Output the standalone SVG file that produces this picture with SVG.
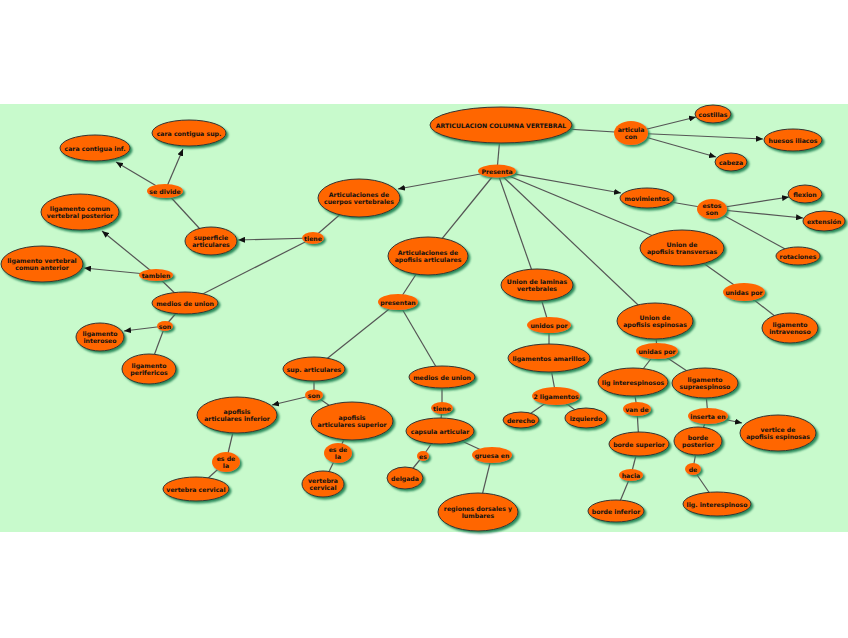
<svg xmlns="http://www.w3.org/2000/svg" width="848" height="638" viewBox="0 0 848 638">
<defs>
<filter id="sh" x="-20%" y="-20%" width="150%" height="160%">
<feDropShadow dx="2" dy="2" stdDeviation="0.8" flood-color="#2a8a5c" flood-opacity="1"/>
</filter>
<marker id="ar" markerWidth="7" markerHeight="6" refX="7" refY="3" orient="auto" markerUnits="userSpaceOnUse">
<path d="M0,0 L7,3 L0,6 z" fill="#111"/>
</marker>
</defs>
<style>
.c{fill:#ff6600;stroke:#333;stroke-width:1;filter:url(#sh)}
.l{fill:#ff6600;stroke:none;filter:url(#sh)}
text{font-family:"DejaVu Sans","Liberation Sans",sans-serif;font-weight:bold;font-size:6.2px;fill:#111;text-anchor:middle}
#edges line{stroke:#555;stroke-width:1.2}
#edges line.a{marker-end:url(#ar)}
</style>
<rect x="0" y="0" width="848" height="638" fill="#ffffff"/>
<rect x="0" y="104" width="848" height="428" fill="#c8facc"/>
<g id="edges">
<line x1="501" y1="125" x2="497" y2="171"/>
<line x1="501" y1="125" x2="631" y2="133"/>
<line x1="497" y1="171" x2="428" y2="256"/>
<line x1="497" y1="171" x2="537" y2="285"/>
<line x1="497" y1="171" x2="655" y2="321"/>
<line x1="497" y1="171" x2="682" y2="248"/>
<line x1="647" y1="198" x2="712" y2="209"/>
<line x1="712" y1="209" x2="798" y2="256"/>
<line x1="682" y1="248" x2="744" y2="292"/>
<line x1="744" y1="292" x2="790" y2="328"/>
<line x1="655" y1="321" x2="657" y2="351"/>
<line x1="657" y1="351" x2="633" y2="382"/>
<line x1="657" y1="351" x2="705" y2="383"/>
<line x1="633" y1="382" x2="637" y2="409"/>
<line x1="637" y1="409" x2="639" y2="444"/>
<line x1="639" y1="444" x2="631" y2="475"/>
<line x1="631" y1="475" x2="616" y2="511"/>
<line x1="705" y1="383" x2="708" y2="416"/>
<line x1="708" y1="416" x2="698" y2="441"/>
<line x1="698" y1="441" x2="693" y2="469"/>
<line x1="693" y1="469" x2="717" y2="504"/>
<line x1="537" y1="285" x2="549" y2="325"/>
<line x1="549" y1="325" x2="549" y2="358"/>
<line x1="549" y1="358" x2="556" y2="396"/>
<line x1="556" y1="396" x2="521" y2="420"/>
<line x1="556" y1="396" x2="586" y2="418"/>
<line x1="428" y1="256" x2="398" y2="302"/>
<line x1="398" y1="302" x2="314" y2="369"/>
<line x1="398" y1="302" x2="442" y2="377"/>
<line x1="314" y1="369" x2="314" y2="395"/>
<line x1="314" y1="395" x2="352" y2="421"/>
<line x1="237" y1="415" x2="226" y2="462"/>
<line x1="226" y1="462" x2="196" y2="489"/>
<line x1="352" y1="421" x2="338" y2="453"/>
<line x1="338" y1="453" x2="323" y2="484"/>
<line x1="442" y1="377" x2="442" y2="408"/>
<line x1="442" y1="408" x2="440" y2="431"/>
<line x1="440" y1="431" x2="423" y2="456"/>
<line x1="423" y1="456" x2="405" y2="478"/>
<line x1="440" y1="431" x2="492" y2="455"/>
<line x1="492" y1="455" x2="478" y2="512"/>
<line x1="359" y1="198" x2="313" y2="238"/>
<line x1="313" y1="238" x2="185" y2="303"/>
<line x1="211" y1="241" x2="165" y2="191"/>
<line x1="185" y1="303" x2="156" y2="275"/>
<line x1="185" y1="303" x2="165" y2="326"/>
<line x1="165" y1="326" x2="149" y2="369"/>
<line class="a" x1="631" y1="133" x2="696" y2="117"/>
<line class="a" x1="631" y1="133" x2="763" y2="139"/>
<line class="a" x1="631" y1="133" x2="716" y2="157"/>
<line class="a" x1="497" y1="171" x2="398" y2="189"/>
<line class="a" x1="497" y1="171" x2="621" y2="193"/>
<line class="a" x1="712" y1="209" x2="789" y2="197"/>
<line class="a" x1="712" y1="209" x2="803" y2="218"/>
<line class="a" x1="313" y1="238" x2="238" y2="240"/>
<line class="a" x1="165" y1="191" x2="116" y2="162"/>
<line class="a" x1="165" y1="191" x2="183" y2="149"/>
<line class="a" x1="156" y1="275" x2="102" y2="231"/>
<line class="a" x1="156" y1="275" x2="84" y2="268"/>
<line class="a" x1="165" y1="326" x2="124" y2="331"/>
<line class="a" x1="314" y1="395" x2="272" y2="405"/>
<line class="a" x1="708" y1="416" x2="742" y2="423"/>
</g>
<g id="n_main"><ellipse class="c" cx="501" cy="125" rx="71" ry="18"/><text x="501" y="127.5">ARTICULACION COLUMNA VERTEBRAL</text></g>
<g id="n_costillas"><ellipse class="c" cx="713" cy="114" rx="18" ry="9"/><text x="713" y="116.5">costillas</text></g>
<g id="n_huesos"><ellipse class="c" cx="793" cy="140" rx="29" ry="11"/><text x="793" y="142.5">huesos iliacos</text></g>
<g id="n_cabeza"><ellipse class="c" cx="731" cy="162" rx="16" ry="9"/><text x="731" y="164.5">cabeza</text></g>
<g id="n_movimientos"><ellipse class="c" cx="647" cy="198" rx="27" ry="10"/><text x="647" y="200.5">movimientos</text></g>
<g id="n_flexion"><ellipse class="c" cx="805" cy="194" rx="17" ry="9"/><text x="805" y="196.5">flexion</text></g>
<g id="n_extension"><ellipse class="c" cx="824" cy="221" rx="21" ry="10"/><text x="824" y="223.5">extensión</text></g>
<g id="n_rotaciones"><ellipse class="c" cx="798" cy="256" rx="22" ry="9"/><text x="798" y="258.5">rotaciones</text></g>
<g id="n_transversas"><ellipse class="c" cx="682" cy="248" rx="42" ry="18"/><text x="682" y="246.5">Union de</text><text x="682" y="254">apofisis transversas</text></g>
<g id="n_intravenoso"><ellipse class="c" cx="790" cy="328" rx="28" ry="15"/><text x="790" y="326.5">ligamento</text><text x="790" y="334">intravenoso</text></g>
<g id="n_espinosas"><ellipse class="c" cx="655" cy="321" rx="38" ry="18"/><text x="655" y="319.5">Union de</text><text x="655" y="327">apofisis espinosas</text></g>
<g id="n_liginter"><ellipse class="c" cx="633" cy="382" rx="35" ry="14"/><text x="633" y="384.5">lig interespinosos</text></g>
<g id="n_supra"><ellipse class="c" cx="705" cy="383" rx="33" ry="15"/><text x="705" y="381.5">ligamento</text><text x="705" y="389">supraespinoso</text></g>
<g id="n_bordesup"><ellipse class="c" cx="639" cy="444" rx="30" ry="12"/><text x="639" y="446.5">borde superior</text></g>
<g id="n_bordeinf"><ellipse class="c" cx="616" cy="511" rx="28" ry="11"/><text x="616" y="513.5">borde inferior</text></g>
<g id="n_vertice"><ellipse class="c" cx="778" cy="433" rx="38" ry="18"/><text x="778" y="431.5">vertice de</text><text x="778" y="439">apofisis espinosas</text></g>
<g id="n_bordepost"><ellipse class="c" cx="698" cy="441" rx="24" ry="14"/><text x="698" y="439.5">borde</text><text x="698" y="447">posterior</text></g>
<g id="n_liginter2"><ellipse class="c" cx="717" cy="504" rx="34" ry="12"/><text x="717" y="506.5">lig. interespinoso</text></g>
<g id="n_laminas"><ellipse class="c" cx="537" cy="285" rx="36" ry="16"/><text x="537" y="283.5">Union de laminas</text><text x="537" y="291">vertebrales</text></g>
<g id="n_amarillos"><ellipse class="c" cx="549" cy="358" rx="41" ry="14"/><text x="549" y="360.5">ligamentos amarillos</text></g>
<g id="n_derecho"><ellipse class="c" cx="521" cy="420" rx="18" ry="8"/><text x="521" y="422.5">derecho</text></g>
<g id="n_izquierdo"><ellipse class="c" cx="586" cy="418" rx="21" ry="10"/><text x="586" y="420.5">izquierdo</text></g>
<g id="n_apofart"><ellipse class="c" cx="428" cy="256" rx="40" ry="19"/><text x="428" y="254.5">Articulaciones de</text><text x="428" y="262">apofisis articulares</text></g>
<g id="n_suparti"><ellipse class="c" cx="314" cy="369" rx="31" ry="12"/><text x="314" y="371.5">sup. articulares</text></g>
<g id="n_medios2"><ellipse class="c" cx="442" cy="377" rx="33" ry="11"/><text x="442" y="379.5">medios de union</text></g>
<g id="n_apofinf"><ellipse class="c" cx="237" cy="415" rx="40" ry="18"/><text x="237" y="413.5">apofisis</text><text x="237" y="421">articulares inferior</text></g>
<g id="n_apofsup"><ellipse class="c" cx="352" cy="421" rx="41" ry="19"/><text x="352" y="419.5">apofisis</text><text x="352" y="427">articulares superior</text></g>
<g id="n_vc1"><ellipse class="c" cx="196" cy="489" rx="33" ry="12"/><text x="196" y="491.5">vertebra cervical</text></g>
<g id="n_vc2"><ellipse class="c" cx="323" cy="484" rx="21" ry="13"/><text x="323" y="482.5">vertebra</text><text x="323" y="490">cervical</text></g>
<g id="n_capsula"><ellipse class="c" cx="440" cy="431" rx="34" ry="13"/><text x="440" y="433.5">capsula articular</text></g>
<g id="n_delgada"><ellipse class="c" cx="405" cy="478" rx="18" ry="11"/><text x="405" y="480.5">delgada</text></g>
<g id="n_regiones"><ellipse class="c" cx="478" cy="512" rx="40" ry="19"/><text x="478" y="510.5">regiones dorsales y</text><text x="478" y="518">lumbares</text></g>
<g id="n_cuerpos"><ellipse class="c" cx="359" cy="198" rx="41" ry="19"/><text x="359" y="196.5">Articulaciones de</text><text x="359" y="204">cuerpos vertebrales</text></g>
<g id="n_superficie"><ellipse class="c" cx="211" cy="241" rx="26" ry="14"/><text x="211" y="239.5">superficie</text><text x="211" y="247">articulares</text></g>
<g id="n_carainf"><ellipse class="c" cx="95" cy="148" rx="35" ry="13"/><text x="95" y="150.5">cara contigua inf.</text></g>
<g id="n_carasup"><ellipse class="c" cx="189" cy="133" rx="37" ry="13"/><text x="189" y="135.5">cara contigua sup.</text></g>
<g id="n_posterior"><ellipse class="c" cx="80" cy="212" rx="39" ry="18"/><text x="80" y="210.5">ligamento comun</text><text x="80" y="218">vertebral posterior</text></g>
<g id="n_anterior"><ellipse class="c" cx="42" cy="264" rx="41" ry="18"/><text x="42" y="262.5">ligamento vertebral</text><text x="42" y="270">comun anterior</text></g>
<g id="n_medios1"><ellipse class="c" cx="185" cy="303" rx="33" ry="11"/><text x="185" y="305.5">medios de union</text></g>
<g id="n_interoseo"><ellipse class="c" cx="100" cy="337" rx="24" ry="14"/><text x="100" y="335.5">ligamento</text><text x="100" y="343">interoseo</text></g>
<g id="n_perifericos"><ellipse class="c" cx="149" cy="369" rx="27" ry="15"/><text x="149" y="367.5">ligamento</text><text x="149" y="375">perifericos</text></g>
<g id="l_presenta"><ellipse class="l" cx="497" cy="171" rx="19" ry="6.5"/><text x="497" y="173.5">Presenta</text></g>
<g id="l_articula"><ellipse class="l" cx="631" cy="133" rx="17" ry="12"/><text x="631" y="131.5">articula</text><text x="631" y="139">con</text></g>
<g id="l_estos"><ellipse class="l" cx="712" cy="209" rx="15" ry="10"/><text x="712" y="207.5">estos</text><text x="712" y="215">son</text></g>
<g id="l_unidas1"><ellipse class="l" cx="744" cy="292" rx="21" ry="9"/><text x="744" y="294.5">unidas por</text></g>
<g id="l_unidas2"><ellipse class="l" cx="657" cy="351" rx="21" ry="8"/><text x="657" y="353.5">unidas por</text></g>
<g id="l_vande"><ellipse class="l" cx="637" cy="409" rx="14" ry="7"/><text x="637" y="411.5">van de</text></g>
<g id="l_hacia"><ellipse class="l" cx="631" cy="475" rx="12" ry="6"/><text x="631" y="477.5">hacia</text></g>
<g id="l_inserta"><ellipse class="l" cx="708" cy="416" rx="20" ry="8"/><text x="708" y="418.5">inserta en</text></g>
<g id="l_de"><ellipse class="l" cx="693" cy="469" rx="8" ry="6"/><text x="693" y="471.5">de</text></g>
<g id="l_unidos"><ellipse class="l" cx="549" cy="325" rx="22" ry="8"/><text x="549" y="327.5">unidos por</text></g>
<g id="l_2lig"><ellipse class="l" cx="556" cy="396" rx="24" ry="9"/><text x="556" y="398.5">2 ligamentos</text></g>
<g id="l_presentan"><ellipse class="l" cx="398" cy="302" rx="20" ry="8"/><text x="398" y="304.5">presentan</text></g>
<g id="l_son2"><ellipse class="l" cx="314" cy="395" rx="9" ry="5.5"/><text x="314" y="397.5">son</text></g>
<g id="l_esdela1"><ellipse class="l" cx="226" cy="462" rx="14" ry="10"/><text x="226" y="460.5">es de</text><text x="226" y="468">la</text></g>
<g id="l_esdela2"><ellipse class="l" cx="338" cy="453" rx="14" ry="10"/><text x="338" y="451.5">es de</text><text x="338" y="459">la</text></g>
<g id="l_tiene2"><ellipse class="l" cx="442" cy="408" rx="11" ry="6"/><text x="442" y="410.5">tiene</text></g>
<g id="l_es"><ellipse class="l" cx="423" cy="456" rx="6" ry="5"/><text x="423" y="458.5">es</text></g>
<g id="l_gruesa"><ellipse class="l" cx="492" cy="455" rx="20" ry="8"/><text x="492" y="457.5">gruesa en</text></g>
<g id="l_tiene1"><ellipse class="l" cx="313" cy="238" rx="11" ry="6"/><text x="313" y="240.5">tiene</text></g>
<g id="l_sedivide"><ellipse class="l" cx="165" cy="191" rx="18" ry="7"/><text x="165" y="193.5">se divide</text></g>
<g id="l_tambien"><ellipse class="l" cx="156" cy="275" rx="17" ry="6"/><text x="156" y="277.5">tambien</text></g>
<g id="l_son1"><ellipse class="l" cx="165" cy="326" rx="8" ry="5"/><text x="165" y="328.5">son</text></g>
</svg>
